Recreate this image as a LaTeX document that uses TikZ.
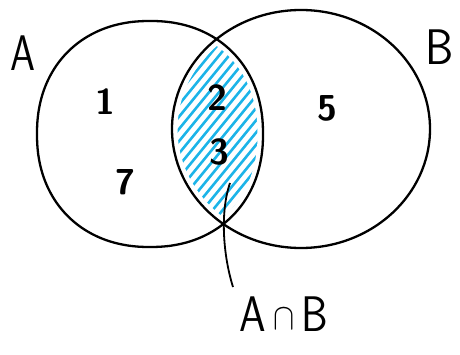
\documentclass[tikz,border=0pt]{standalone}
\begin{document}
\begin{tikzpicture}[x=1pt,y=-1pt,
  setline/.style={line width=2.3pt,black},
  hatch/.style={line width=2.6pt,color=hatchblue,line cap=round},
  lbl/.style={font=\sffamily\fontsize{50}{50}\selectfont,inner sep=0pt},
  num/.style={font=\sffamily\bfseries\fontsize{36}{36}\selectfont,inner sep=0pt}]
\definecolor{hatchblue}{HTML}{1CB4E8}
\useasboundingbox (0,0) rectangle (460,355);
\def\pathA{plot[domain=1:361,samples=121,smooth] ({150+113*sign(cos(\x))*abs(cos(\x))^(0.92)}, {134+113*sign(sin(\x))*abs(sin(\x))^(0.92)}) -- cycle}
\def\pathB{(301,129) ellipse [x radius=129, y radius=119]}
% hatching of the intersection
\begin{scope}
  \clip \pathA;
  \clip \pathB;
  \foreach \c in {-60,-50,...,260} {
    \draw[hatch] (\c,250) -- (\c+180,30);
  }
\end{scope}
% white margin inside the lens
\draw[white,line width=11pt] \pathA;
\draw[white,line width=11pt] \pathB;
% sets
\draw[setline] \pathA;
\draw[setline] \pathB;
% labels
\node[lbl] (labA) at (23,53) {\scalebox{0.8}[1]{A}};
\node[lbl] (labB) at (440,47) {\scalebox{0.9}[1]{B}};
\node[num] (n1) at (105,102) {1};
\node[num] (n7) at (125,182) {7};
\node[num] (n2) at (217,98) {2};
\node[num] (n3) at (219,152) {3};
\node[num] (n5) at (327,108) {5};
\node[lbl,anchor=north] (labAB) at (284,297) {\scalebox{0.85}[1]{A\,\raisebox{2pt}{\scalebox{1.5}{$\cap$}}\,B}};
\coordinate (tip) at (230,183);
\draw[line width=1.8pt] (tip) .. controls (220,212) and (223,255) .. (233,287);
\end{tikzpicture}
\end{document}
